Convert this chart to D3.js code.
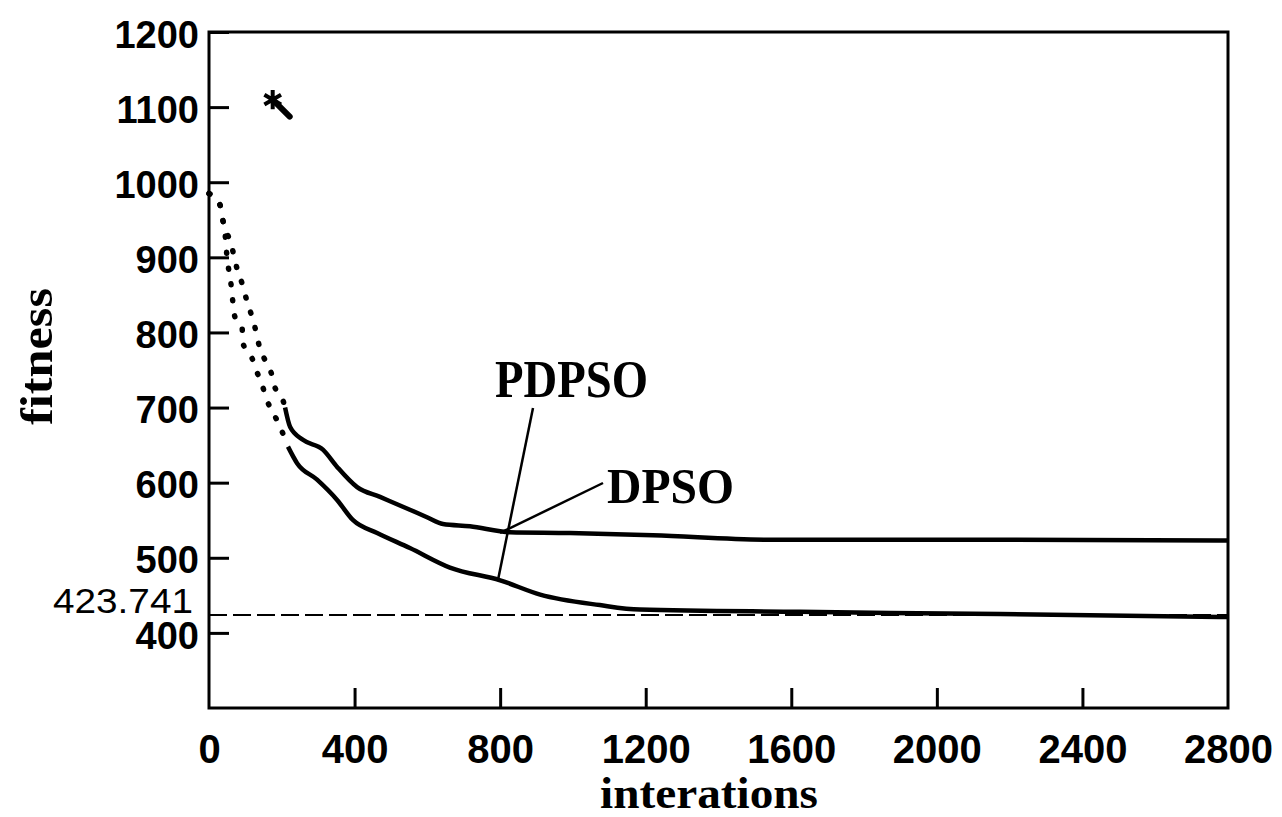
<!DOCTYPE html>
<html>
<head>
<meta charset="utf-8">
<script src="https://cdn.jsdelivr.net/npm/d3@7"></script>
<style>
  body { margin: 0; background: #fff; }
  svg { display: block; }
  .tick text { font-family: "Liberation Sans", Arial, sans-serif; font-weight: bold; }
  .lbl { font-family: "Liberation Serif", "Times New Roman", serif; font-weight: bold; fill: #000; }
</style>
</head>
<body>
<div id="chart"></div>
<script>
// data (iterations, fitness)
const xTicks = [0, 400, 800, 1200, 1600, 2000, 2400, 2800]
const yTicks = [400, 500, 600, 700, 800, 900, 1000, 1100, 1200]
const refValue = 423.741

const pdpsoIt = [0, 30, 36, 44, 49, 60, 71, 91, 93, 118, 132, 146, 159, 176, 190, 217,
  242, 297, 352, 396, 462, 552, 662, 800, 910, 1074, 1184, 1624, 2174, 2800]
const pdpsoFit = [985, 970, 954, 932, 903, 866, 821, 806, 786, 766, 747, 730, 710, 693, 680, 648,
  626, 604, 577, 550, 533, 513, 487, 470, 451, 437, 431, 428, 425, 421]

const dpsoIt = [0, 30, 40, 60, 77, 91, 107, 121, 140, 154, 173, 181, 201, 209, 223,
  258, 313, 352, 407, 470, 552, 599, 643, 717, 827, 992, 1220, 1542, 2174, 2800]
const dpsoFit = [985, 970, 945, 919, 885, 865, 837, 817, 779, 763, 743, 727, 713, 700, 674,
  657, 644, 621, 594, 581, 564, 554, 545, 542, 534, 533, 530, 524, 524, 523]

// where the dotted start of each curve turns solid
const pdpsoCut = 217
const dpsoCut = 209

const marker = [{ it: 175, fit: 1110 }]

const W = 1282, H = 817

const svg = d3.select('#chart').append('svg')
  .attr('width', W)
  .attr('height', H)

const x = d3.scaleLinear().domain([0, 2800]).range([209, 1228])
const y = d3.scaleLinear().domain([300, 1200]).range([708, 32])

// axes, ticks pointing inward
const xAxis = svg.append('g')
  .attr('transform', 'translate(0,' + y(300) + ')')
  .call(d3.axisBottom(x).tickValues(xTicks).tickSize(-20).tickPadding(27).tickFormat(d3.format('d')))
xAxis.select('.domain').remove()
xAxis.selectAll('.tick line').attr('stroke-width', 3)
xAxis.selectAll('.tick text').attr('font-size', 40)
xAxis.selectAll('.tick').filter(d => d === 0).select('line').remove()
xAxis.selectAll('.tick').filter(d => d === 2800).select('line').remove()

const yAxis = svg.append('g')
  .attr('transform', 'translate(' + x(0) + ',0)')
  .call(d3.axisLeft(y).tickValues(yTicks).tickSize(-20).tickPadding(10).tickFormat(d3.format('d')))
yAxis.select('.domain').remove()
yAxis.selectAll('.tick line').attr('stroke-width', 3)
yAxis.selectAll('.tick text').attr('font-size', 38).attr('dy', '0.4em')

// reference value label
svg.append('text')
  .attr('class', 'tick-ref')
  .attr('x', x(0) - 16)
  .attr('y', y(refValue) - 14)
  .attr('dy', '0.35em')
  .attr('text-anchor', 'end')
  .attr('font-family', '"Liberation Sans", Arial, sans-serif')
  .attr('font-size', 35)
  .attr('textLength', 140).attr('lengthAdjust', 'spacingAndGlyphs')
  .text(refValue)

// frame
svg.append('rect')
  .attr('x', x(0))
  .attr('y', y(1200))
  .attr('width', x(2800) - x(0))
  .attr('height', y(300) - y(1200))
  .attr('fill', 'none')
  .attr('stroke', '#000')
  .attr('stroke-width', 3)

// dashed reference line
svg.append('line')
  .attr('x1', x(0))
  .attr('x2', x(2800))
  .attr('y1', y(refValue))
  .attr('y2', y(refValue))
  .attr('stroke', '#000')
  .attr('stroke-width', 2)
  .attr('stroke-dasharray', '18 6')

const line = d3.line().x(d => x(d.it)).y(d => y(d.fit)).curve(d3.curveMonotoneX)

const series = [
  { name: 'PDPSO', pts: pdpsoIt.map((it, i) => ({ it, fit: pdpsoFit[i] })), cut: pdpsoCut },
  { name: 'DPSO', pts: dpsoIt.map((it, i) => ({ it, fit: dpsoFit[i] })), cut: dpsoCut }
]

series.forEach(s => {
  svg.append('path')
    .attr('d', line(s.pts.filter(d => d.it <= s.cut)))
    .attr('fill', 'none')
    .attr('stroke', '#000')
    .attr('stroke-width', 5.5)
    .attr('stroke-linecap', 'round')
    .attr('stroke-dasharray', '1 15')
  svg.append('path')
    .attr('d', line(s.pts.filter(d => d.it >= s.cut)))
    .attr('fill', 'none')
    .attr('stroke', '#000')
    .attr('stroke-width', 4.5)
    .attr('stroke-linejoin', 'round')
})

// starting marker
const mk = svg.selectAll('g.marker')
  .data(marker)
  .enter().append('g')
  .attr('class', 'marker')
  .attr('transform', d => 'translate(' + x(d.it) + ',' + y(d.fit) + ')')
mk.append('path')
  .attr('d', d3.symbol(d3.symbolAsterisk).size(260))
  .attr('stroke', '#000')
  .attr('stroke-width', 4)
  .attr('fill', 'none')
mk.append('line')
  .attr('x1', 3).attr('y1', 3).attr('x2', 17).attr('y2', 17)
  .attr('stroke', '#000')
  .attr('stroke-width', 6)
  .attr('stroke-linecap', 'round')

// series labels with leader lines
svg.append('text').attr('class', 'lbl')
  .attr('x', 495).attr('y', 397)
  .attr('font-size', 52)
  .attr('textLength', 153).attr('lengthAdjust', 'spacingAndGlyphs')
  .text('PDPSO')
svg.append('line')
  .attr('x1', 533).attr('y1', 408)
  .attr('x2', x(800) - 2).attr('y2', y(470) - 1)
  .attr('stroke', '#000').attr('stroke-width', 2.5)

svg.append('text').attr('class', 'lbl')
  .attr('x', 607).attr('y', 503)
  .attr('font-size', 50)
  .attr('textLength', 127).attr('lengthAdjust', 'spacingAndGlyphs')
  .text('DPSO')
svg.append('line')
  .attr('x1', 603).attr('y1', 483)
  .attr('x2', x(992) - 70).attr('y2', y(533))
  .attr('stroke', '#000').attr('stroke-width', 2.5)

// axis titles
svg.append('text').attr('class', 'lbl')
  .attr('x', 600).attr('y', 808)
  .attr('font-size', 44)
  .attr('textLength', 218).attr('lengthAdjust', 'spacingAndGlyphs')
  .text('interations')

svg.append('text').attr('class', 'lbl')
  .attr('transform', 'translate(52,425) rotate(-90)')
  .attr('font-size', 46)
  .attr('textLength', 137).attr('lengthAdjust', 'spacingAndGlyphs')
  .text('fitness')
</script>
</body>
</html>
